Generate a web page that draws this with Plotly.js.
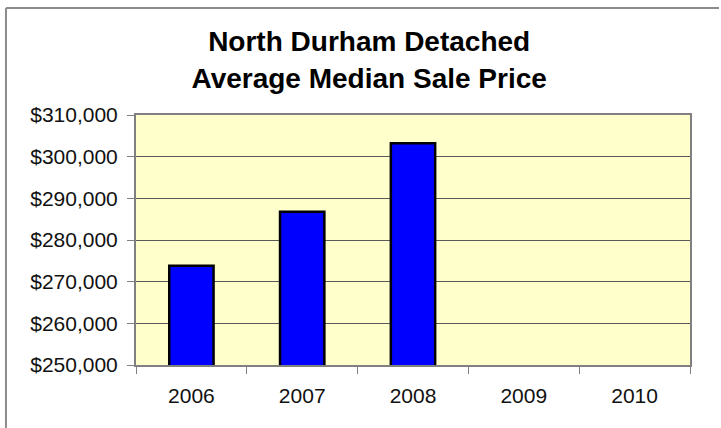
<!DOCTYPE html>
<html>
<head>
<meta charset="utf-8">
<script src="https://cdn.plot.ly/plotly-3.0.1.min.js"></script>
<style>html,body{margin:0;padding:0;background:#fff;overflow:hidden;}#chart{width:721px;height:428px;overflow:hidden;}</style>
</head>
<body>
<div id="chart"></div>
<script>
var years = ["2006", "2007", "2008", "2009", "2010"];
var medianPrices = [273800, 286800, 303200, null, null];
var yTickValues = [250000, 260000, 270000, 280000, 290000, 300000, 310000];

var trace = {
  type: "bar",
  x: years,
  y: medianPrices,
  marker: { color: "#0000FF", line: { color: "#000000", width: 2.5 } },
  hoverinfo: "x+y"
};

var layout = {
  width: 721,
  height: 428,
  margin: { l: 136, r: 31, t: 115, b: 63 },
  paper_bgcolor: "#FFFFFF",
  plot_bgcolor: "#FFFFCC",
  showlegend: false,
  bargap: 0.6,
  font: { family: "Liberation Sans, Arial, sans-serif", color: "#000000" },
  title: {
    text: "<b>North Durham Detached<br>Average Median Sale Price</b>",
    font: { family: "Liberation Sans, Arial, sans-serif", size: 28, color: "#000000" },
    x: 0.512, xref: "container", xanchor: "center",
    y: 0.88, yref: "container", yanchor: "top"
  },
  xaxis: {
    type: "category",
    tickson: "boundaries",
    ticks: "outside",
    ticklen: 7,
    tickcolor: "#808080",
    tickwidth: 1,
    ticklabelstandoff: 11,
    showline: true,
    linecolor: "#808080",
    linewidth: 2,
    mirror: true,
    showgrid: false,
    tickfont: { size: 21, color: "#111111" },
    fixedrange: true
  },
  yaxis: {
    range: [250000, 310000],
    tickvals: yTickValues,
    tickformat: "$,.0f",
    ticks: "outside",
    ticklen: 7,
    tickcolor: "#808080",
    tickwidth: 1,
    ticklabelstandoff: 5,
    showline: true,
    linecolor: "#808080",
    linewidth: 2,
    mirror: true,
    showgrid: true,
    gridcolor: "#5a5a5a",
    gridwidth: 1,
    zeroline: false,
    tickfont: { size: 21, color: "#111111" },
    fixedrange: true
  },
  shapes: [
    { type: "line", xref: "paper", yref: "paper",
      x0: -0.2347, x1: 1.0523, y0: 1.428, y1: 1.428,
      line: { color: "#8c8c8c", width: 2 }, layer: "below" },
    { type: "line", xref: "paper", yref: "paper",
      x0: -0.2347, x1: -0.2347, y0: -0.26, y1: 1.428,
      line: { color: "#8c8c8c", width: 2 }, layer: "below" }
  ]
};

Plotly.newPlot("chart", [trace], layout, { displayModeBar: false, staticPlot: true });
</script>
</body>
</html>
